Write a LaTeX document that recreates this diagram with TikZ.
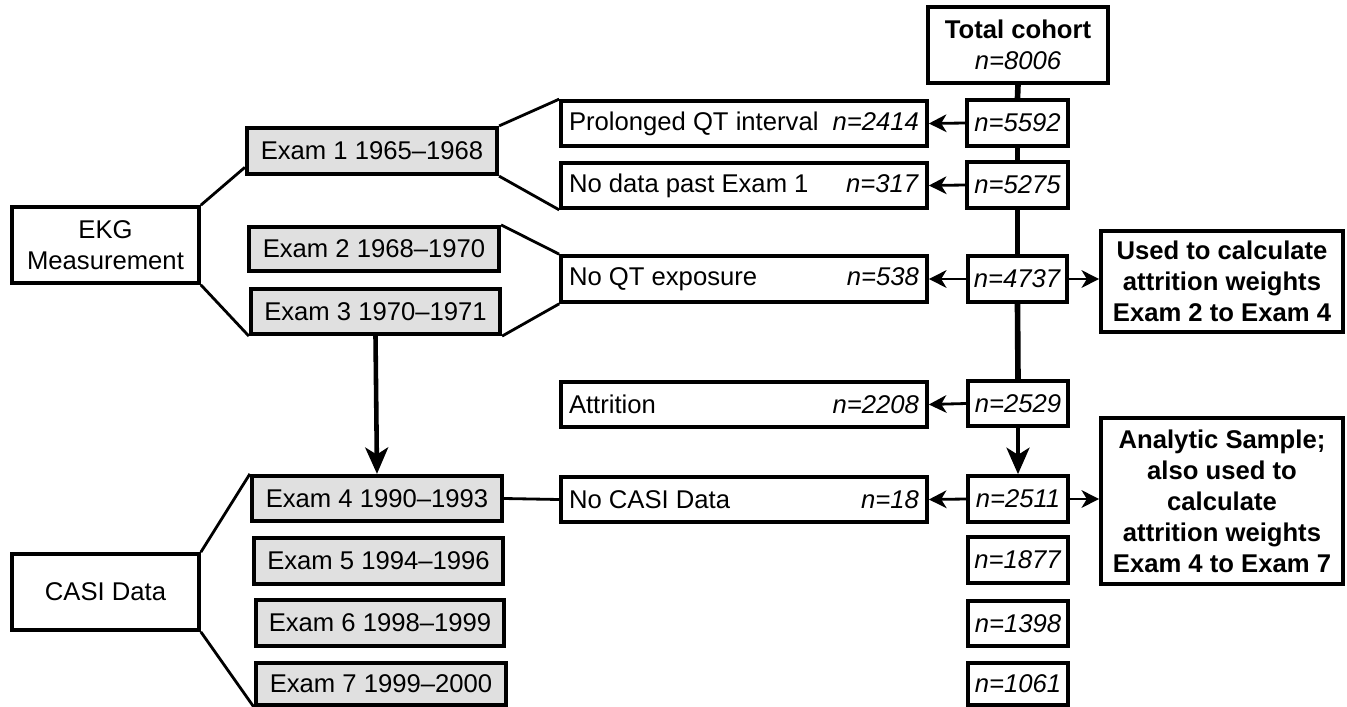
\documentclass[tikz,border=0pt]{standalone}
\usepackage{fontspec}
\setmainfont{Liberation Sans}
\usetikzlibrary{arrows.meta}
\definecolor{examgray}{RGB}{224,224,224}
\newdimen\px \px=0.02cm
\newcommand\bx[7]{\node[#6, minimum width={(#4-#2)*\px}, minimum height={(#5-#3)*\px}] (#1) at ({(#2+#4)/2},{(#3+#5)/2}) {#7};}
\newcommand\lr[2]{\makebox[350\px]{#1\hfill #2}}
\begin{document}
\begin{tikzpicture}[x=0.02cm,y=-0.02cm,
  font=\fontsize{14.6}{17.6}\selectfont,
  box/.style={draw=black, line width=2.1pt, inner sep=0pt, align=center, fill=white},
  exam/.style={box, fill=examgray, line width=2.4pt},
  bold/.style={font=\fontsize{14.6}{17.6}\selectfont\bfseries},
  conn/.style={line width=1.6pt},
  trunk/.style={line width=3.2pt},
  harr/.style={line width=1.6pt, -{Stealth[length=10pt,width=10pt,inset=3pt]}},
  varr/.style={line width=2.6pt, -{Stealth[length=15pt,width=13pt,inset=4pt]}}]
\useasboundingbox (0,0) rectangle (1347,707);

% right column
\bx{total}{928}{7}{1108}{83}{box}{\textbf{Total cohort}\\\textit{n=8006}}
\bx{n5592}{967}{100}{1068}{146}{box}{\textit{n=5592}}
\bx{n5275}{967}{162}{1068}{208}{box}{\textit{n=5275}}
\bx{n4737}{968}{256}{1067}{302}{box}{\textit{n=4737}}
\bx{n2529}{968}{381}{1068}{426}{box}{\textit{n=2529}}
\bx{n2511}{968}{476}{1068}{522}{box}{\textit{n=2511}}
\bx{n1877}{968}{537}{1068}{583}{box}{\textit{n=1877}}
\bx{n1398}{968}{601}{1068}{646}{box}{\textit{n=1398}}
\bx{n1061}{968}{663}{1068}{705}{box}{\textit{n=1061}}

% exclusion boxes
\bx{prol}{561}{101}{927}{146}{box}{\lr{Prolonged QT interval}{\textit{n=2414}}}
\bx{nodata}{561}{163}{927}{208}{box}{\lr{No data past Exam 1}{\textit{n=317}}}
\bx{noqt}{561}{256}{927}{302}{box}{\lr{No QT exposure}{\textit{n=538}}}
\bx{attr}{561}{382}{927}{427}{box}{\lr{Attrition}{\textit{n=2208}}}
\bx{nocasi}{561}{477}{927}{522}{box}{\lr{No CASI Data}{\textit{n=18}}}

% left groups
\bx{ekg}{12}{207}{199}{283}{box}{EKG\\Measurement}
\bx{casi}{12}{554}{199}{630}{box}{CASI Data}

% exams
\bx{ex1}{247}{128}{497}{174}{exam}{Exam 1 1965--1968}
\bx{ex2}{249}{227}{499}{271}{exam}{Exam 2 1968--1970}
\bx{ex3}{251}{289}{500}{334}{exam}{Exam 3 1970--1971}
\bx{ex4}{252}{476}{502}{521}{exam}{Exam 4 1990--1993}
\bx{ex5}{254}{538}{503}{584}{exam}{Exam 5 1994--1996}
\bx{ex6}{256}{600}{504}{646}{exam}{Exam 6 1998--1999}
\bx{ex7}{256}{663}{506}{705}{exam}{Exam 7 1999--2000}

% side boxes
\bx{used}{1101}{231}{1343}{332}{box,bold}{Used to calculate\\attrition weights\\Exam 2 to Exam 4}
\bx{anal}{1101}{418}{1343}{584}{box,bold}{Analytic Sample;\\also used to\\calculate\\attrition weights\\Exam 4 to Exam 7}

% bracket connectors
\draw[conn] (ekg.north east) -- ([yshift=5pt]ex1.south west);
\draw[conn] (ekg.south east) -- (ex3.south west);
\draw[conn] (ex1.north east) -- (prol.north west);
\draw[conn] (ex1.south east) -- (nodata.south west);
\draw[conn] (ex2.north east) -- (noqt.north west);
\draw[conn] (ex3.south east) -- (noqt.south west);
\draw[conn] (casi.north east) -- (ex4.north west);
\draw[conn] (casi.south east) -- (ex7.south west);
\draw[conn] (ex4.east) -- (nocasi.west);

% trunk
\draw[trunk] (total.south) -- (n5592.north);
\draw[trunk] (n5592.south) -- (n5275.north);
\draw[trunk] (n5275.south) -- (n4737.north);
\draw[trunk] (n4737.south) -- (n2529.north);
\draw[varr] (n2529.south) -- (n2511.north);
\draw[varr] (ex3.south) -- (ex4.north);

% horizontal arrows
\draw[harr] (n5592.west) -- (prol.east);
\draw[harr] (n5275.west) -- (nodata.east);
\draw[harr] (n4737.west) -- (noqt.east);
\draw[harr] (n2529.west) -- (attr.east);
\draw[harr] (n2511.west) -- (nocasi.east);
\draw[harr] (n4737.east) -- (n4737.east -| used.west);
\draw[harr] (n2511.east) -- (n2511.east -| anal.west);
\end{tikzpicture}
\end{document}
